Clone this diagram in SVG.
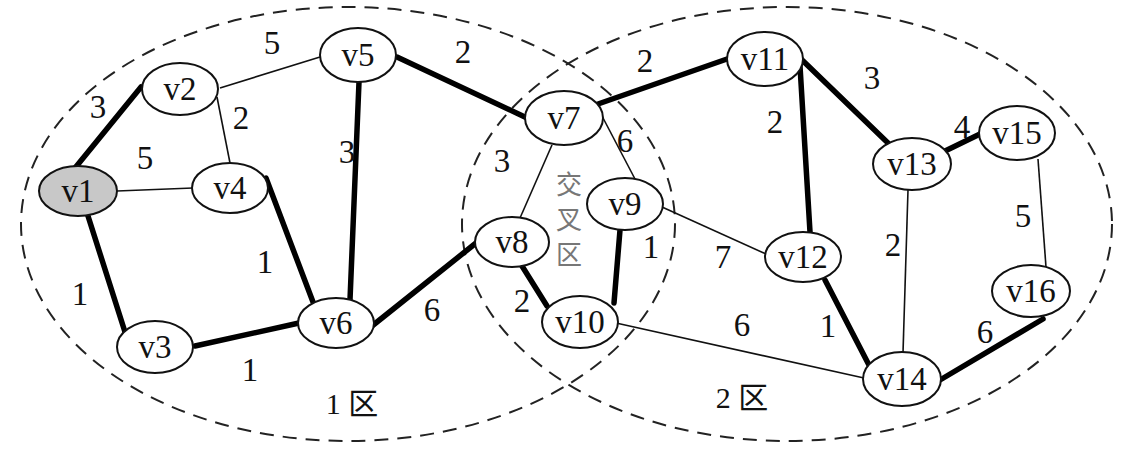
<svg xmlns="http://www.w3.org/2000/svg" width="1127" height="450" viewBox="0 0 1127 450">
<style>
.region{fill:none;stroke:#222;stroke-width:2;stroke-dasharray:14 9}
.thin{stroke:#111;stroke-width:1.6;fill:none}
.thick{stroke:#000;stroke-width:5.5;fill:none;stroke-linecap:round}
.node ellipse{fill:#fff;stroke:#111;stroke-width:2}
.node text,.w{font-size:33px;fill:#111;text-anchor:middle}
.rl{font-size:30px;fill:#111;text-anchor:middle}
.cross{font-size:26px;fill:#777;text-anchor:middle}
</style>
<rect width="1127" height="450" fill="#fff"/>
<g id="regions">
<ellipse class="region" cx="348" cy="224" rx="327" ry="217"/>
<ellipse class="region" cx="787" cy="224" rx="325" ry="217"/>
</g>
<g id="connectors">
<line class="thick" x1="75" y1="168" x2="141" y2="87"/>
<line class="thin" x1="220" y1="88" x2="320" y2="57"/>
<line class="thin" x1="217" y1="97" x2="230" y2="163"/>
<line class="thin" x1="117" y1="191" x2="193" y2="188"/>
<line class="thick" x1="266" y1="178" x2="313" y2="302"/>
<line class="thick" x1="359" y1="82" x2="350" y2="300"/>
<line class="thick" x1="88" y1="216" x2="125" y2="332"/>
<line class="thick" x1="195" y1="346" x2="299" y2="323"/>
<line class="thick" x1="397" y1="57" x2="527" y2="118"/>
<line class="thick" x1="598" y1="104" x2="727" y2="59"/>
<line class="thin" x1="552" y1="145" x2="520" y2="218"/>
<line class="thin" x1="602" y1="116" x2="635" y2="179"/>
<line class="thick" x1="372" y1="326" x2="476" y2="243"/>
<line class="thick" x1="522" y1="266" x2="547" y2="306"/>
<line class="thick" x1="620" y1="230" x2="614" y2="303"/>
<line class="thin" x1="662" y1="207" x2="766" y2="254"/>
<line class="thin" x1="616" y1="323" x2="864" y2="378"/>
<line class="thick" x1="800" y1="66" x2="810" y2="232"/>
<line class="thick" x1="800" y1="58" x2="888" y2="143"/>
<line class="thick" x1="943" y1="152" x2="980" y2="134"/>
<line class="thin" x1="908" y1="190" x2="903" y2="353"/>
<line class="thin" x1="1038" y1="159" x2="1046" y2="267"/>
<line class="thick" x1="825" y1="280" x2="870" y2="367"/>
<line class="thick" x1="940" y1="380" x2="1043" y2="319"/>
</g>
<g id="weights" font-family="Liberation Serif, serif">
<text class="w" x="98" y="118">3</text>
<text class="w" x="272" y="54">5</text>
<text class="w" x="241" y="129">2</text>
<text class="w" x="145" y="169">5</text>
<text class="w" x="347" y="163">3</text>
<text class="w" x="265" y="273">1</text>
<text class="w" x="80" y="305">1</text>
<text class="w" x="250" y="381">1</text>
<text class="w" x="463" y="63">2</text>
<text class="w" x="432" y="321">6</text>
<text class="w" x="502" y="172">3</text>
<text class="w" x="625" y="152">6</text>
<text class="w" x="645" y="72">2</text>
<text class="w" x="522" y="312">2</text>
<text class="w" x="651" y="258">1</text>
<text class="w" x="723" y="268">7</text>
<text class="w" x="742" y="336">6</text>
<text class="w" x="775" y="133">2</text>
<text class="w" x="872" y="89">3</text>
<text class="w" x="962" y="138">4</text>
<text class="w" x="893" y="256">2</text>
<text class="w" x="1023" y="227">5</text>
<text class="w" x="828" y="337">1</text>
<text class="w" x="985" y="343">6</text>
</g>
<g id="nodes" font-family="Liberation Serif, serif">
<g id="v1" class="node"><ellipse cx="78" cy="191" rx="39" ry="25" style="fill:#c8c8c8"/><text x="78" y="202">v1</text></g>
<g id="v2" class="node"><ellipse cx="180" cy="89" rx="38" ry="26"/><text x="180" y="100">v2</text></g>
<g id="v3" class="node"><ellipse cx="155" cy="347" rx="38" ry="26"/><text x="155" y="358">v3</text></g>
<g id="v4" class="node"><ellipse cx="230" cy="188" rx="38" ry="25"/><text x="230" y="199">v4</text></g>
<g id="v5" class="node"><ellipse cx="358" cy="55" rx="38" ry="27"/><text x="358" y="66">v5</text></g>
<g id="v6" class="node"><ellipse cx="336" cy="323" rx="38" ry="25"/><text x="336" y="334">v6</text></g>
<g id="v7" class="node"><ellipse cx="564" cy="118" rx="39" ry="27"/><text x="564" y="129">v7</text></g>
<g id="v8" class="node"><ellipse cx="512" cy="242" rx="37" ry="25"/><text x="512" y="253">v8</text></g>
<g id="v9" class="node"><ellipse cx="625" cy="204" rx="38" ry="26"/><text x="625" y="215">v9</text></g>
<g id="v10" class="node"><ellipse cx="580" cy="322" rx="38" ry="26"/><text x="580" y="333">v10</text></g>
<g id="v11" class="node"><ellipse cx="765" cy="59" rx="38" ry="27"/><text x="765" y="70">v11</text></g>
<g id="v12" class="node"><ellipse cx="803" cy="257" rx="38" ry="25"/><text x="803" y="268">v12</text></g>
<g id="v13" class="node"><ellipse cx="912" cy="164" rx="39" ry="26"/><text x="912" y="175">v13</text></g>
<g id="v14" class="node"><ellipse cx="902" cy="379" rx="39" ry="27"/><text x="902" y="390">v14</text></g>
<g id="v15" class="node"><ellipse cx="1017" cy="133" rx="38" ry="27"/><text x="1017" y="144">v15</text></g>
<g id="v16" class="node"><ellipse cx="1031" cy="291" rx="39" ry="26"/><text x="1031" y="302">v16</text></g>
</g>
<g id="labels">
<text class="rl" font-family="Liberation Serif, Noto Sans CJK SC, serif" x="352" y="414">1 区</text>
<text class="rl" font-family="Liberation Serif, Noto Sans CJK SC, serif" x="742" y="408">2 区</text>
<g font-family="Noto Sans CJK SC, sans-serif">
<text class="cross" x="569" y="194">交</text>
<text class="cross" x="569" y="229">叉</text>
<text class="cross" x="569" y="264">区</text>
</g>
</g>
</svg>
